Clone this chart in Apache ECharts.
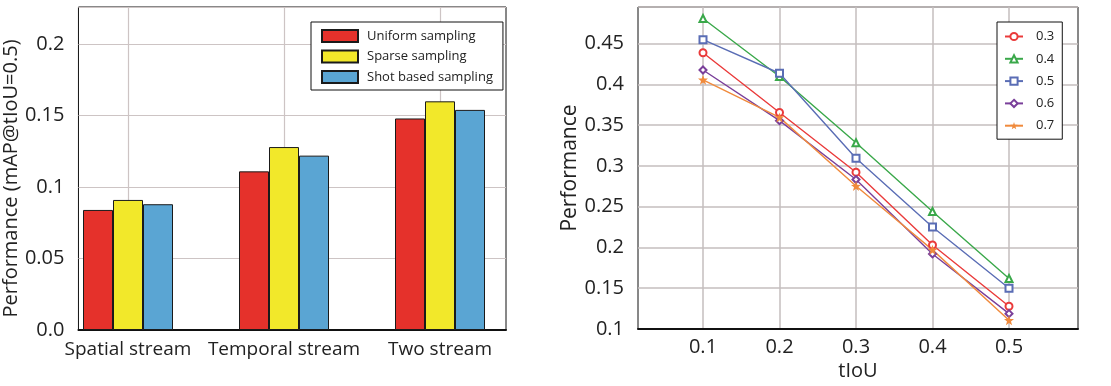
<!DOCTYPE html>
<html>
<head>
<meta charset="utf-8">
<script src="https://cdn.jsdelivr.net/npm/echarts@6/dist/echarts.min.js"></script>
<style>
  body { margin: 0; background: #fff; }
  #main { width: 1111px; height: 386px; }
</style>
</head>
<body>
<div id="main"></div>
<script>
// left chart: sampling strategies
var streams = ['Spatial stream', 'Temporal stream', 'Two stream'];
var uniformVals = [0.084, 0.111, 0.148];
var sparseVals = [0.091, 0.128, 0.16];
var shotVals = [0.088, 0.122, 0.154];

// right chart: performance vs tIoU
var tiouLabels = ['0.1', '0.2', '0.3', '0.4', '0.5'];
var perf03 = [0.439, 0.366, 0.293, 0.204, 0.129];
var perf04 = [0.481, 0.41, 0.329, 0.245, 0.163];
var perf05 = [0.455, 0.414, 0.31, 0.226, 0.151];
var perf06 = [0.418, 0.356, 0.284, 0.193, 0.12];
var perf07 = [0.406, 0.36, 0.276, 0.198, 0.112];

var font = 'Open Sans';
var txt = '#222';
var leftMax = 0.226;
var rightMax = 0.495;
var star = 'path://M0,-10L2.35,-3.24L9.51,-3.09L3.8,1.24L5.88,8.09L0,4L-5.88,8.09L-3.8,1.24L-9.51,-3.09L-2.35,-3.24Z';

var chart = echarts.init(document.getElementById('main'));

function tickFmt(max, zeroTxt) {
  return function (v) {
    if (Math.abs(v - max) < 1e-6) return '';
    if (v === 0) return zeroTxt;
    return String(+v.toFixed(2));
  };
}

function barSeries(name, vals, color) {
  return {
    name: name,
    type: 'bar',
    xAxisIndex: 1,
    yAxisIndex: 1,
    data: vals,
    barWidth: 30,
    barGap: '0%',
    clip: false,
    itemStyle: { color: color, borderColor: '#1a1a1a', borderWidth: 1 }
  };
}

function lineSeries(name, vals, color, symbol, size) {
  return {
    name: name,
    type: 'line',
    xAxisIndex: 3,
    yAxisIndex: 3,
    data: vals,
    symbol: symbol,
    symbolSize: size || 7,
    lineStyle: { color: color, width: 1.4 },
    itemStyle: { color: color, borderWidth: 1.2 }
  };
}

var option = {
  animation: false,
  backgroundColor: '#fff',
  textStyle: { fontFamily: font },
  grid: [
    { left: 72, top: 7, width: 434, height: 323, show: true, borderColor: '#111', borderWidth: 1 },
    { left: 128, top: 7, width: 312, height: 323 },
    { left: 638, top: 7, width: 440, height: 323, show: true, borderColor: '#111', borderWidth: 1 },
    { left: 703, top: 7, width: 306, height: 323 }
  ],
  xAxis: [
    {
      gridIndex: 0, type: 'value', min: 0, max: 1,
      axisLabel: { show: false }, axisTick: { show: false }, splitLine: { show: false },
      axisLine: { lineStyle: { color: '#111', width: 2 } }
    },
    {
      gridIndex: 1, type: 'category', boundaryGap: false, data: streams,
      axisLine: { show: false }, axisTick: { show: false },
      axisLabel: { color: txt, fontSize: 19, margin: 10, interval: 0, fontFamily: font },
      splitLine: { show: true, lineStyle: { color: '#cdc4c4', width: 1.2 } }
    },
    {
      gridIndex: 2, type: 'value', min: 0, max: 1,
      axisLabel: { show: false }, axisTick: { show: false }, splitLine: { show: false },
      axisLine: { lineStyle: { color: '#111', width: 2 } },
      name: 'tIoU', nameLocation: 'middle', nameGap: 32,
      nameTextStyle: { color: txt, fontSize: 20, fontFamily: font }
    },
    {
      gridIndex: 3, type: 'category', boundaryGap: false, data: tiouLabels,
      axisLine: { show: false }, axisTick: { show: false },
      axisLabel: { color: txt, fontSize: 20, margin: 7, fontFamily: font },
      splitLine: { show: true, lineStyle: { color: '#c4bebe', width: 1.5 } }
    }
  ],
  yAxis: [
    {
      gridIndex: 0, type: 'value', min: 0, max: leftMax, interval: 0.05,
      axisLine: { show: false }, axisTick: { show: false },
      axisLabel: { color: txt, fontSize: 20, margin: 14, fontFamily: font, formatter: tickFmt(leftMax, '0.0') },
      splitLine: { lineStyle: { color: '#cdc4c4', width: 1.2 } },
      name: 'Performance (mAP@tIoU=0.5)', nameLocation: 'middle', nameGap: 47,
      nameTextStyle: { color: txt, fontSize: 20, fontFamily: font, padding: [0, 20, 0, 0] }
    },
    { gridIndex: 1, type: 'value', min: 0, max: leftMax, show: false },
    {
      gridIndex: 2, type: 'value', min: 0.1, max: rightMax, interval: 0.05,
      axisLine: { show: false }, axisTick: { show: false },
      axisLabel: { color: txt, fontSize: 20, margin: 14, fontFamily: font, formatter: tickFmt(rightMax, '0') },
      splitLine: { lineStyle: { color: '#c4bebe', width: 1.5 } },
      name: 'Performance', nameLocation: 'middle', nameGap: 50,
      nameTextStyle: { color: txt, fontSize: 21, fontFamily: font }
    },
    { gridIndex: 3, type: 'value', min: 0.1, max: rightMax, show: false }
  ],
  legend: [
    {
      data: ['Uniform sampling', 'Sparse sampling', 'Shot based sampling'],
      orient: 'vertical', left: 311, top: 22,
      icon: 'rect', itemWidth: 36, itemHeight: 12, itemGap: 6.5,
      padding: [7, 10, 6, 10],
      borderColor: '#111', borderWidth: 1, borderRadius: 0, backgroundColor: '#fff',
      textStyle: { color: txt, fontSize: 13, fontFamily: font, padding: [0, 0, 0, 4] }
    },
    {
      data: ['0.3', '0.4', '0.5', '0.6', '0.7'],
      orient: 'vertical', left: 997, top: 22,
      itemWidth: 18, itemHeight: 9, itemGap: 9.3,
      padding: [8, 8, 7, 7],
      borderColor: '#111', borderWidth: 1, borderRadius: 0, backgroundColor: '#fff',
      textStyle: { color: txt, fontSize: 13, fontFamily: font, padding: [0, 0, 0, 8] }
    }
  ],
  series: [
    barSeries('Uniform sampling', uniformVals, '#e5312b'),
    barSeries('Sparse sampling', sparseVals, '#f2e82a'),
    barSeries('Shot based sampling', shotVals, '#5aa5d3'),
    lineSeries('0.3', perf03, '#ea3b3b', 'emptyCircle'),
    lineSeries('0.4', perf04, '#3aa84a', 'emptyTriangle'),
    lineSeries('0.5', perf05, '#5a6db5', 'emptyRect'),
    lineSeries('0.6', perf06, '#7a3f9a', 'emptyDiamond'),
    lineSeries('0.7', perf07, '#f08a3c', star, 10)
  ]
};

chart.setOption(option);
</script>
</body>
</html>
